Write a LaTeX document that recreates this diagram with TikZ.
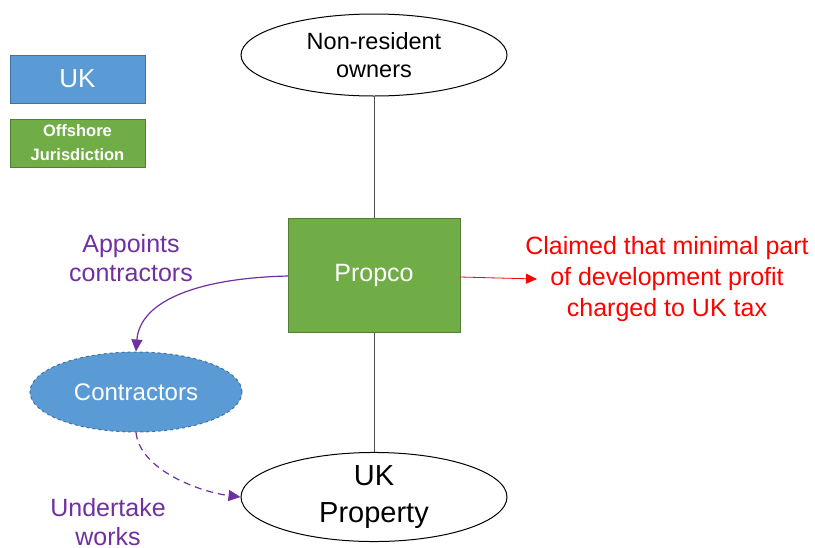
\documentclass[tikz,border=0pt]{standalone}
\usepackage{fontspec}
\setmainfont{Liberation Sans}
\usetikzlibrary{shapes.geometric,arrows.meta}
\definecolor{ukblue}{HTML}{5B9BD5}
\definecolor{ukblueb}{HTML}{41719C}
\definecolor{offgreen}{HTML}{70AD47}
\definecolor{offgreenb}{HTML}{507E32}
\definecolor{purp}{HTML}{7030A0}
\begin{document}
\begin{tikzpicture}[x=1pt,y=-1pt,
  legbox/.style={draw=#1, line width=1pt, minimum width=135pt, minimum height=48pt, inner sep=0pt, text=white, align=center},
  oval/.style={ellipse, draw=black, line width=1pt, inner sep=0pt, align=center},
  conn/.style={draw=black!70, line width=0.6pt},
  purparrow/.style={draw=purp, line width=1.2pt, -{Triangle[length=12pt,width=11pt]}},
  lab/.style={text=purp, align=center, font=\fontsize{25}{29}\selectfont}
]
\useasboundingbox (0,0) rectangle (815,547);
\node[legbox=ukblueb, fill=ukblue, font=\fontsize{26}{30}\selectfont] (uk) at (77.5,79) {UK};
\node[legbox=offgreenb, fill=offgreen, font=\bfseries\fontsize{16.5}{24}\selectfont] (off) at (77.5,143) {Offshore\\Jurisdiction};
\node[oval, minimum width=266pt, minimum height=82pt, font=\fontsize{23.5}{28}\selectfont] (nro) at (374,55) {Non-resident\\owners};
\node[draw=offgreenb, line width=1pt, fill=offgreen, minimum width=172pt, minimum height=114pt, inner sep=0pt, text=white, font=\fontsize{25}{29}\selectfont] (propco) at (374,275) {Propco};
\node[oval, minimum width=266pt, minimum height=83pt, font=\fontsize{29}{37}\selectfont] (ukp) at (374,497) {UK\\Property};
\node[ellipse, draw=ukblueb, dashed, line width=1pt, fill=ukblue, minimum width=212pt, minimum height=80pt, inner sep=0pt, text=white, font=\fontsize{24}{28}\selectfont] (con) at (136,392) {Contractors};
\draw[conn] (nro.south) -- (propco.north);
\draw[conn] (propco.south) -- (ukp.north);
\coordinate (pl) at (288,276);
\draw[purparrow] (pl) .. controls (200,278) and (140,300) .. (con.north);
\draw[purparrow, dashed, dash pattern=on 7pt off 5pt] (con.south) .. controls (140,470) and (200,492) .. (ukp.west);
\node[lab] (appl) at (131,258) {Appoints\\contractors};
\node[lab] (undl) at (108,522) {Undertake\\works};
\node[text=red, align=center, font=\fontsize{25}{31}\selectfont] (claim) at (667,279) {Claimed that minimal part\\of development profit\\charged to UK tax};
\coordinate (pr) at (460,277);
\coordinate (pe) at (537,279);
\draw[red, line width=0.8pt, -{Triangle[length=11pt,width=10pt]}] (pr) -- (pe);
\end{tikzpicture}
\end{document}
